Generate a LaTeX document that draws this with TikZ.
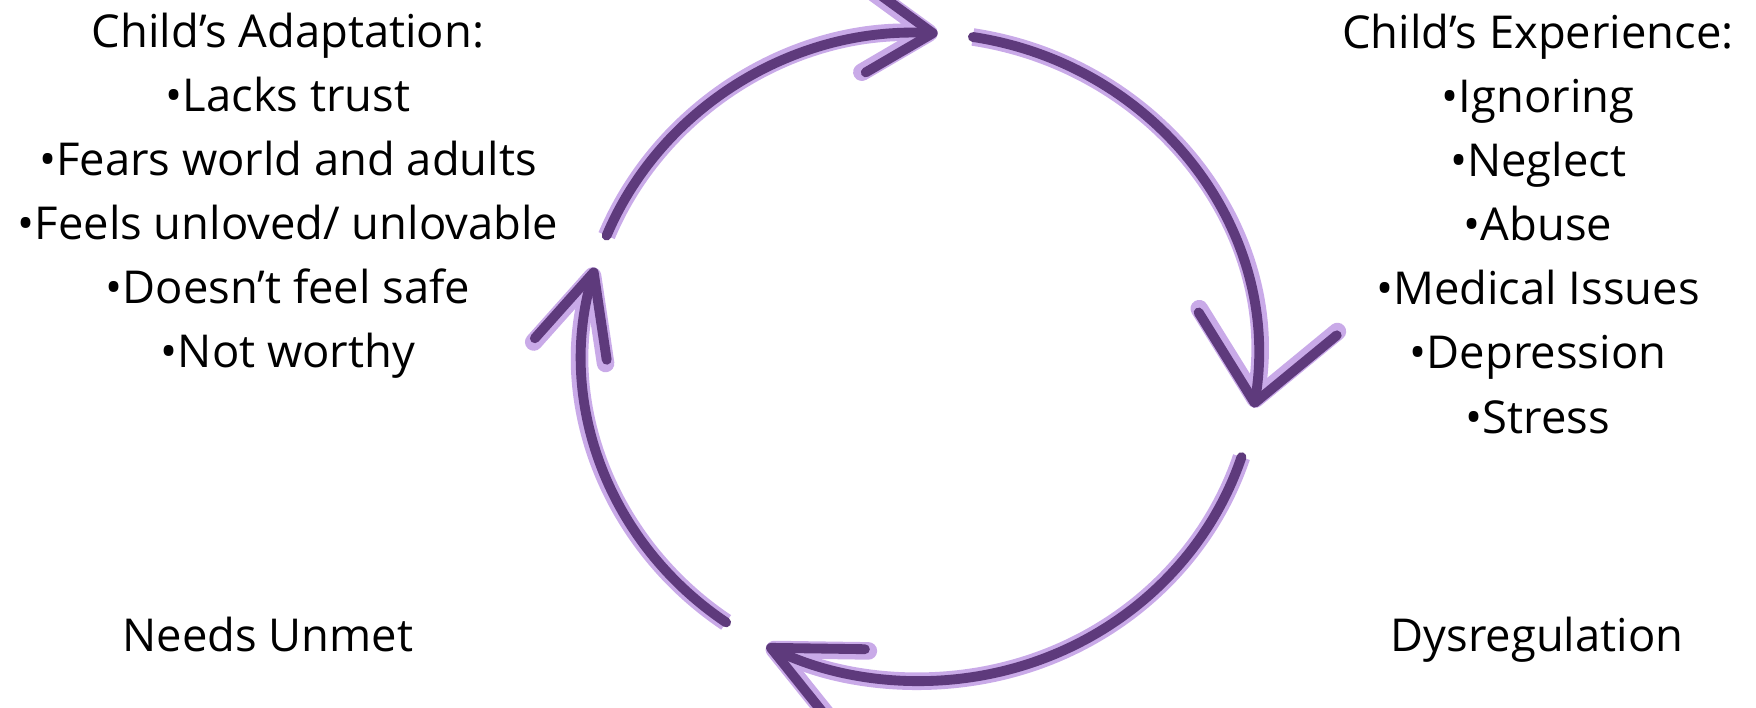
\documentclass[tikz,border=0pt]{standalone}
\usepackage{fontspec}
\setmainfont{Open Sans}
\usetikzlibrary{arrows.meta}
\definecolor{lila}{HTML}{C9AAE8}
\definecolor{morado}{HTML}{5E3A7C}

\begin{document}
\begin{tikzpicture}[
        texto/.style={font=\fontsize{12.9}{18.25}\selectfont, align=center, inner sep=0pt, anchor=base},
        lapiz/.style={morado, line width=2.8pt, line cap=round,
            preaction={draw, lila, line width=5pt}},
    ]
    \useasboundingbox (0,0) rectangle (17.56,7.07);

    % Textos (anclados en la linea base de la ultima linea)
    \node[texto] (adaptacion) at (2.88,3.39) {Child’s Adaptation:\\•Lacks trust\\•Fears world and adults\\•Feels unloved/ unlovable\\•Doesn’t feel safe\\•Not worthy};
    \node[texto] (experiencia) at (15.38,2.74) {Child’s Experience:\\•Ignoring\\•Neglect\\•Abuse\\•Medical Issues\\•Depression\\•Stress};
    \node[texto] (necesidades) at (2.68,0.56) {Needs Unmet};
    \node[texto] (desregulacion) at (15.37,0.56) {Dysregulation};

    % Ciclo
    \coordinate (centro) at (9.20,3.50);
    \begin{scope}[shift={(centro)}]
        \draw[lapiz, -{Straight Barb[length=6.5mm, width=8.5mm, round]}]
            (158:3.38 and 3.24) arc[start angle=158, end angle=87, x radius=3.38, y radius=3.24];
        \draw[lapiz, -{Straight Barb[length=8mm, width=14mm, round]}]
            (81:3.38 and 3.24) arc[start angle=81, end angle=-9, x radius=3.38, y radius=3.24];
        \draw[lapiz, -{Straight Barb[length=8.5mm, width=8mm, round]}]
            (-18:3.38 and 3.24) arc[start angle=-18, end angle=-117, x radius=3.38, y radius=3.24];
        \draw[lapiz, -{Straight Barb[length=8mm, width=7.5mm, round]}]
            (-125:3.38 and 3.24) arc[start angle=-125, end angle=-196, x radius=3.38, y radius=3.24];
    \end{scope}
\end{tikzpicture}
\end{document}
